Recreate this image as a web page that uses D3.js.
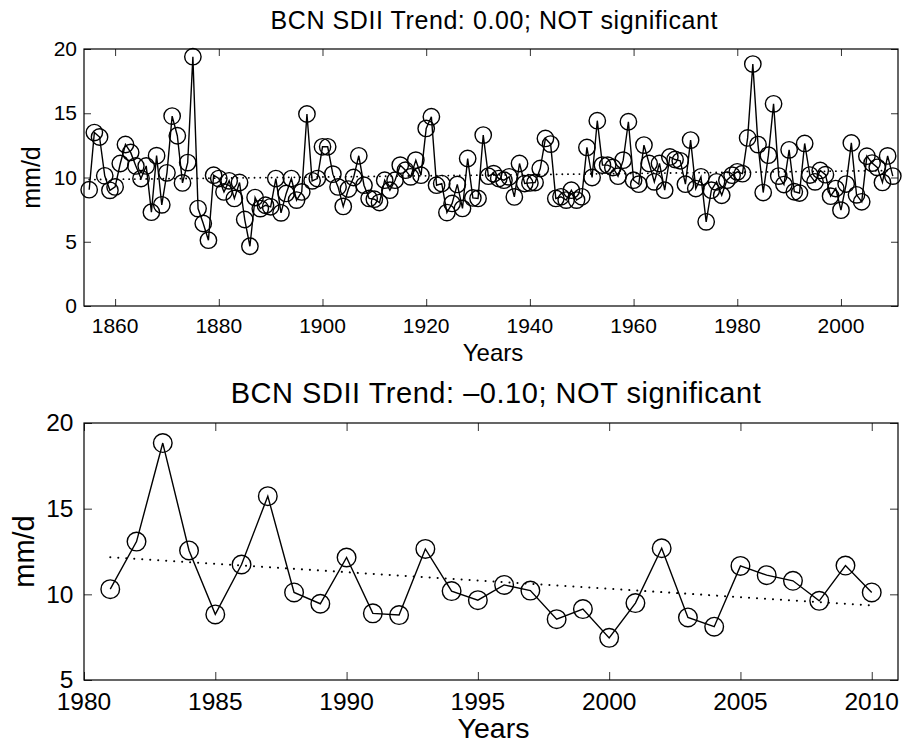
<!DOCTYPE html>
<html>
<head>
<meta charset="utf-8">
<script src="https://cdn.jsdelivr.net/npm/d3@7"></script>
<style>
  html, body { margin: 0; padding: 0; background: #fff; }
  svg { display: block; }
  text { font-family: "Liberation Sans", Arial, Helvetica, sans-serif; fill: #000; }
</style>
</head>
<body>
<svg id="chart" width="903" height="743"></svg>
<script>
// ---- Data ----
const firstYear = 1855;
// Annual SDII (mm/d), Barcelona, 1855 .. 1980
const sdiiEarly = [
  9.05, 13.5, 13.15, 10.13, 9.0, 9.27, 11.09, 12.57, 11.95, 10.9,
  9.92, 10.9, 7.3, 11.7, 7.87, 10.36, 14.78, 13.25, 9.58, 11.16,
  19.4, 7.58, 6.42, 5.12, 10.18, 9.92, 8.88, 9.74, 8.37, 9.61,
  6.73, 4.65, 8.44, 7.58, 7.84, 7.72, 9.92, 7.25, 8.76, 9.92,
  8.24, 8.88, 14.94, 9.74, 9.92, 12.39, 12.39, 10.26, 9.27, 7.75,
  9.1, 10.0, 11.69, 9.4, 8.37, 8.31, 8.05, 9.79, 9.01, 9.79,
  10.96, 10.57, 10.05, 11.35, 10.18, 13.82, 14.73, 9.4, 9.53, 7.27,
  7.98, 9.46, 7.59, 11.48, 8.41, 8.37, 13.3, 10.1, 10.3, 9.92,
  9.79, 10.05, 8.49, 11.09, 9.53, 9.58, 9.61, 10.7, 13.04, 12.6,
  8.37, 8.5, 8.24, 9.01, 8.24, 8.5, 12.34, 10.0, 14.42, 10.96,
  10.96, 10.78, 10.1, 11.35, 14.34, 9.79, 9.48, 12.52, 11.09, 9.66,
  11.09, 9.01, 11.6, 11.4, 11.3, 9.48, 12.91, 9.14, 10.05, 6.55,
  9.01, 9.66, 8.62, 9.79, 10.18, 10.44
];
// Annual SDII (mm/d), 1981 .. 2010 (shown in the lower panel)
const recentYears = [1981,1982,1983,1984,1985,1986,1987,1988,1989,1990,
  1991,1992,1993,1994,1995,1996,1997,1998,1999,2000,
  2001,2002,2003,2004,2005,2006,2007,2008,2009,2010];
const sdiiRecent = [10.30, 13.08, 18.83, 12.56, 8.83, 11.74, 15.73, 10.11, 9.45, 12.15,
  8.89, 8.79, 12.65, 10.19, 9.66, 10.55, 10.22, 8.55, 9.14, 7.46,
  9.49, 12.69, 8.65, 8.11, 11.66, 11.12, 10.79, 9.62, 11.68, 10.11];

const topTitle = "BCN SDII Trend: 0.00; NOT significant";
const bottomTitle = "BCN SDII Trend: \u20130.10; NOT significant";
const topXTicks = [1860, 1880, 1900, 1920, 1940, 1960, 1980, 2000];
const topYTicks = [0, 5, 10, 15, 20];
const bottomXTicks = [1980, 1985, 1990, 1995, 2000, 2005, 2010];
const bottomYTicks = [5, 10, 15, 20];
const xLabel = "Years";
const yLabel = "mm/d";

// ---- Build full series ----
const allValues = sdiiEarly.concat(sdiiRecent);
const allData = allValues.map((v, i) => ({ year: firstYear + i, value: v }));
const recentData = recentYears.map((y, i) => ({ year: y, value: sdiiRecent[i] }));

function linFit(data) {
  const n = data.length;
  const mx = d3.mean(data, d => d.year), my = d3.mean(data, d => d.value);
  let sxy = 0, sxx = 0;
  data.forEach(d => { sxy += (d.year - mx) * (d.value - my); sxx += (d.year - mx) ** 2; });
  const b = sxy / sxx, a = my - b * mx;
  const x0 = data[0].year, x1 = data[n - 1].year;
  return [{ year: x0, value: a + b * x0 }, { year: x1, value: a + b * x1 }];
}

const svg = d3.select("#chart");

function panel(opts) {
  const { data, xDomain, yDomain, xTicks, yTicks, box, title, fonts, r, tickLen, pos } = opts;
  const x = d3.scaleLinear().domain(xDomain).range([box.left, box.right]);
  const y = d3.scaleLinear().domain(yDomain).range([box.bottom, box.top]);
  const g = svg.append("g");

  // axes (inward ticks on all four sides)
  const axB = d3.axisBottom(x).tickValues(xTicks).tickSize(-tickLen).tickFormat("");
  const axT = d3.axisTop(x).tickValues(xTicks).tickSize(-tickLen).tickFormat("");
  const axL = d3.axisLeft(y).tickValues(yTicks).tickSize(-tickLen).tickFormat("");
  const axR = d3.axisRight(y).tickValues(yTicks).tickSize(-tickLen).tickFormat("");
  g.append("g").attr("transform", `translate(0,${box.bottom})`).call(axB);
  g.append("g").attr("transform", `translate(0,${box.top})`).call(axT);
  g.append("g").attr("transform", `translate(${box.left},0)`).call(axL);
  g.append("g").attr("transform", `translate(${box.right},0)`).call(axR);
  g.selectAll(".domain").remove();
  g.selectAll(".tick line").attr("stroke", "#333").attr("stroke-width", 1);

  g.append("rect")
    .attr("x", box.left).attr("y", box.top)
    .attr("width", box.right - box.left).attr("height", box.bottom - box.top)
    .attr("fill", "none").attr("stroke", "#000").attr("stroke-width", 1.2);

  // tick labels
  g.selectAll(".xl").data(xTicks).enter().append("text")
    .attr("x", d => x(d)).attr("y", pos.xTickBase)
    .attr("text-anchor", "middle").style("font-size", fonts.tick + "px")
    .text(d => d);
  g.selectAll(".yl").data(yTicks).enter().append("text")
    .attr("x", pos.yTickRight).attr("y", d => y(d))
    .attr("dy", "0.34em")
    .attr("text-anchor", "end").style("font-size", fonts.tick + "px")
    .text(d => d);

  // axis labels
  g.append("text").attr("x", pos.xLabelX).attr("y", pos.xLabelBase)
    .attr("text-anchor", "middle").style("font-size", fonts.label + "px").text(xLabel);
  g.append("text")
    .attr("transform", `translate(${pos.yLabelBase},${(box.top + box.bottom) / 2}) rotate(-90)`)
    .attr("text-anchor", "middle").style("font-size", fonts.ylabel + "px").text(yLabel);

  // title
  g.append("text").attr("x", pos.titleX).attr("y", pos.titleBase)
    .attr("text-anchor", "middle").style("font-size", fonts.title + "px")
    .attr("textLength", pos.titleLen).attr("lengthAdjust", "spacing")
    .text(title);

  // trend line
  const trend = linFit(data);
  g.append("path").datum(trend)
    .attr("d", d3.line().x(d => x(d.year)).y(d => y(d.value)))
    .attr("fill", "none").attr("stroke", "#000").attr("stroke-width", pos.dotW)
    .attr("stroke-dasharray", pos.dash).attr("stroke-linecap", "round");

  // data line
  g.append("path").datum(data)
    .attr("d", d3.line().x(d => x(d.year)).y(d => y(d.value)))
    .attr("fill", "none").attr("stroke", "#000").attr("stroke-width", 1.4)
    .attr("stroke-linejoin", "miter");

  // markers
  g.selectAll(".pt").data(data).enter().append("circle")
    .attr("cx", d => x(d.year)).attr("cy", d => y(d.value)).attr("r", r)
    .attr("fill", "none").attr("stroke", "#000").attr("stroke-width", 1.4);
}

panel({
  data: allData,
  xDomain: [1854, 2011], yDomain: [0, 20],
  xTicks: topXTicks, yTicks: topYTicks,
  box: { left: 84, right: 898, top: 49, bottom: 306 },
  title: topTitle,
  fonts: { tick: 21, label: 24, ylabel: 25, title: 25 },
  r: 8.2, tickLen: 7,
  pos: { xTickBase: 333, yTickRight: 77, xLabelX: 493, xLabelBase: 361,
         yLabelBase: 40, titleX: 494, titleBase: 29, titleLen: 447,
         dash: "0.1,5.6", dotW: 1.8 }
});

panel({
  data: recentData,
  xDomain: [1980, 2011], yDomain: [5, 20],
  xTicks: bottomXTicks, yTicks: bottomYTicks,
  box: { left: 84, right: 898, top: 423, bottom: 680 },
  title: bottomTitle,
  fonts: { tick: 24.5, label: 28.5, ylabel: 29, title: 29 },
  r: 9.3, tickLen: 8,
  pos: { xTickBase: 710, yTickRight: 73.5, xLabelX: 493.5, xLabelBase: 738,
         yLabelBase: 34, titleX: 495.7, titleBase: 402.7, titleLen: 530,
         dash: "0.1,7.9", dotW: 2 }
});
</script>
</body>
</html>
